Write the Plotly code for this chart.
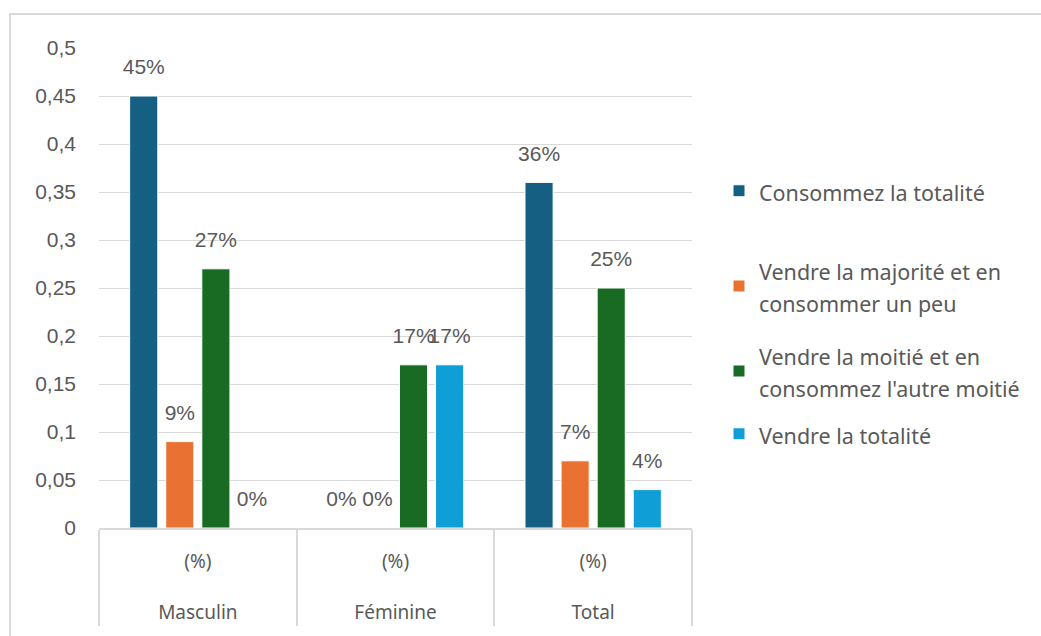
import plotly.graph_objects as go

groups = ["Masculin", "Féminine", "Total"]
sub = ["(%)", "(%)", "(%)"]
series_names = [
    "Consommez la totalité",
    "Vendre la majorité et en<br>consommer un peu",
    "Vendre la moitié et en<br>consommez l'autre moitié",
    "Vendre la totalité",
]
consommez = [0.45, 0.0, 0.36]
vendre_majorite = [0.09, 0.0, 0.07]
vendre_moitie = [0.27, 0.17, 0.25]
vendre_totalite = [0.0, 0.17, 0.04]
colors = ["#156082", "#E97132", "#196B24", "#0F9ED5"]
values = [consommez, vendre_majorite, vendre_moitie, vendre_totalite]

W, H = 1041, 636
L, R, T, B = 99, 692, 48, 528
GREY = "#595959"


def sized(s, px):
    return "<br>".join(f"<span style='font-size:{px}px'>{p}</span>" for p in s.split("<br>"))


x_outer = [sized(g, 19) for g in groups]
x_inner = [sized(s, 19) + "<br> " for s in sub]

fig = go.Figure()
legend_ids = ["legend", "legend2", "legend3", "legend4"]
for name, vals, col, lid in zip(series_names, values, colors, legend_ids):
    fig.add_trace(go.Bar(
        x=[x_outer, x_inner], y=vals, name=sized(name, 21.5),
        marker=dict(color=col, line=dict(color="white", width=1)),
        texttemplate="<span style='font-size:21px'>%{y:.0%}</span><br> ",
        textposition="outside",
        constraintext="none",
        textfont=dict(family="Liberation Sans, Arial", size=12, color=GREY),
        cliponaxis=False, legend=lid, showlegend=True,
    ))

legend_centers = [191, 286, 371, 434]
leg_font = dict(family="Noto Sans, Inter", size=25, color=GREY)
legend_layouts = {}
for lid, cy in zip(legend_ids, legend_centers):
    legend_layouts[lid] = dict(
        x=(719 - L) / (R - L), xanchor="left",
        y=(B - cy) / (B - T), yanchor="middle",
        font=leg_font, bgcolor="rgba(0,0,0,0)", visible=True,
    )

fig.update_layout(
    width=W, height=H,
    margin=dict(l=L, r=W - R, t=T, b=H - B),
    paper_bgcolor="white", plot_bgcolor="white",
    showlegend=True,
    separators=", ",
    bargap=0.27, bargroupgap=0.22,
    barmode="group",
    **legend_layouts,
    yaxis=dict(
        range=[0, 0.5], tickmode="linear", tick0=0, dtick=0.05,
        showgrid=True, gridcolor="#d9d9d9", gridwidth=1,
        zeroline=False, showline=False, automargin=False,
        tickfont=dict(family="Liberation Sans, Arial", size=21, color=GREY),
        ticks="", ticklabelstandoff=22,
    ),
    xaxis=dict(
        type="multicategory", automargin=False,
        showline=True, linecolor="#d9d9d9", linewidth=2,
        showdividers=True, dividercolor="#d9d9d9", dividerwidth=2,
        tickfont=dict(family="Noto Sans, Inter", size=24, color=GREY),
        ticks="", ticklabelstandoff=9,
    ),
    shapes=[dict(type="rect", xref="paper", yref="paper",
                 x0=(10 - L) / (R - L), x1=(W + 20 - L) / (R - L),
                 y0=(B - (H + 20)) / (B - T), y1=(B - 14) / (B - T),
                 line=dict(color="#d9d9d9", width=2), layer="below")],
)

fig.write_html("out.html")
